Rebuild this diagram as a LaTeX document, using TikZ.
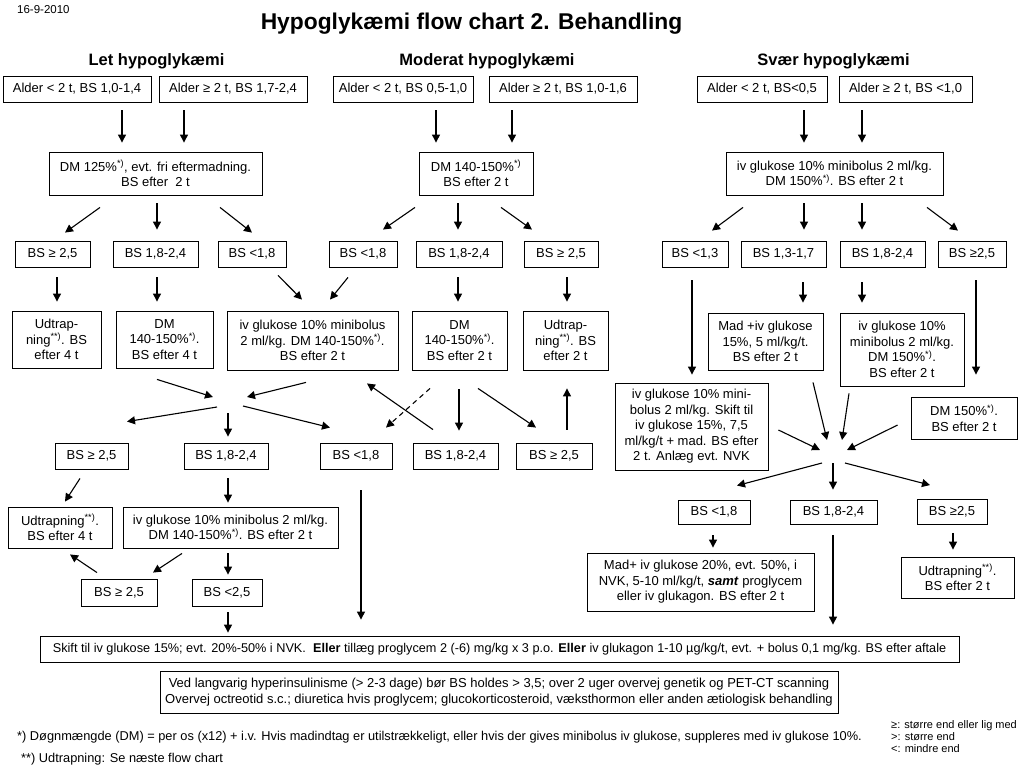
\documentclass[tikz,border=0pt]{standalone}
\usepackage{fontspec}
\setmainfont{Liberation Sans}
\usetikzlibrary{arrows.meta}
\newcommand\mybox[7][]{\node[box,#1,minimum width=#5,minimum height=#6] (#2) at (#3,#4) {#7};}
\begin{document}
\begin{tikzpicture}[x=1pt,y=-1pt,
 box/.style={draw=black,line width=0.85pt,inner xsep=2pt,inner ysep=1pt,align=center,font=\fontsize{13}{15.5}\selectfont},
 arr/.style={-{Triangle[length=8pt,width=8pt]},line width=1.1pt},
 dsh/.style={arr,dash pattern=on 5pt off 4pt},
 ttl/.style={font=\bfseries\fontsize{22.8}{27}\selectfont,anchor=base,inner sep=0pt},
 hd/.style={font=\bfseries\fontsize{16.5}{20}\selectfont,anchor=base,inner sep=0pt},
 note/.style={font=\fontsize{12.8}{15}\selectfont,anchor=base west,inner sep=0pt},
 lg/.style={font=\fontsize{11}{13}\selectfont,anchor=base west,inner sep=0pt}]
\useasboundingbox (0,0) rectangle (1024,768);
\node[font=\fontsize{11.5}{13}\selectfont,anchor=base west,inner sep=0pt] (date) at (17,14) {16-9-2010};
\node[ttl] (title) at (471.5,29.5) {Hypoglykæmi flow chart 2. Behandling};
\node[hd] (h1) at (156.5,65) {Let hypoglykæmi};
\node[hd] (h2) at (487,65) {Moderat hypoglykæmi};
\node[hd] (h3) at (833.5,65) {Svær hypoglykæmi};
% row A
\mybox{A1}{77}{89}{148}{26}{Alder < 2 t, BS 1,0-1,4}
\mybox{A2}{233}{89}{148}{26}{Alder ≥ 2 t, BS 1,7-2,4}
\mybox{A3}{403}{89}{140}{26}{Alder < 2 t, BS 0,5-1,0}
\mybox{A4}{563}{89}{148}{26}{Alder ≥ 2 t, BS 1,0-1,6}
\mybox{A5}{762}{89}{130}{26}{Alder < 2 t, BS<0,5}
\mybox{A6}{905.5}{89}{133}{26}{Alder ≥ 2 t, BS <1,0}
% row B
\mybox{B1}{155.5}{173.5}{213}{43}{DM 125\%\textsuperscript{*)}, evt. fri eftermadning.\\BS efter\ \ 2 t}
\mybox{B2}{476}{173.5}{114}{43}{DM 140-150\%\textsuperscript{*)}\\BS efter 2 t}
\mybox{B3}{834.5}{173.5}{217}{43}{iv glukose 10\% minibolus 2 ml/kg.\\DM 150\%\textsuperscript{*)}. BS efter 2 t}
% row C
\mybox{C1}{52.5}{254}{75}{26}{BS ≥ 2,5}
\mybox{C2}{155.5}{254}{85}{26}{BS 1,8-2,4}
\mybox{C3}{252}{254}{68}{26}{BS <1,8}
\mybox{C4}{363}{254}{68}{26}{BS <1,8}
\mybox{C5}{459}{254}{86}{26}{BS 1,8-2,4}
\mybox{C6}{561}{254}{74}{26}{BS ≥ 2,5}
\mybox{C7}{695}{254}{66}{26}{BS <1,3}
\mybox{C8}{783.5}{254}{85}{26}{BS 1,3-1,7}
\mybox{C9}{882.5}{254}{85}{26}{BS 1,8-2,4}
\mybox{C10}{972}{254}{68}{26}{BS ≥2,5}
% row D
\mybox{D1}{56.5}{339.5}{89}{57}{Udtrap-\\ning\textsuperscript{**)}. BS\\efter 4 t}
\mybox{D2}{164.5}{339.5}{97}{57}{DM\\140-150\%\textsuperscript{*)}.\\BS efter 4 t}
\mybox{D3}{312.5}{340.5}{171}{59}{iv glukose 10\% minibolus\\2 ml/kg. DM 140-150\%\textsuperscript{*)}.\\BS efter 2 t}
\mybox{D4}{459.5}{340.5}{95}{59}{DM\\140-150\%\textsuperscript{*)}.\\BS efter 2 t}
\mybox{D5}{565.5}{340.5}{85}{59}{Udtrap-\\ning\textsuperscript{**)}. BS\\efter 2 t}
\mybox{D6}{765.5}{341.5}{115}{57}{Mad +iv glukose\\15\%, 5 ml/kg/t.\\BS efter 2 t}
\mybox{D7}{902}{349.5}{124}{73}{iv glukose 10\%\\minibolus 2 ml/kg.\\DM 150\%\textsuperscript{*)}.\\BS efter 2 t}
\mybox{E1}{691.5}{426.5}{153}{87}{iv glukose 10\% mini-\\bolus 2 ml/kg. Skift til\\iv glukose 15\%, 7,5\\ml/kg/t + mad. BS efter\\2 t. Anlæg evt. NVK}
\mybox{E2}{964}{418}{106}{42}{DM 150\%\textsuperscript{*)}.\\BS efter 2 t}
% row H
\mybox{H1}{91.5}{456}{73}{26}{BS ≥ 2,5}
\mybox{H2}{226}{456}{84}{26}{BS 1,8-2,4}
\mybox{H3}{356}{456}{72}{26}{BS <1,8}
\mybox{H4}{455.5}{456}{85}{26}{BS 1,8-2,4}
\mybox{H5}{554}{456}{76}{26}{BS ≥ 2,5}
% row F
\mybox{F1}{714}{512}{72}{24}{BS <1,8}
\mybox{F2}{833.5}{512}{87}{24}{BS 1,8-2,4}
\mybox{F3}{952}{512}{70}{25}{BS ≥2,5}
% rows I, G, J
\mybox{I1}{60}{527.5}{104}{41}{Udtrapning\textsuperscript{**)}.\\BS efter 4 t}
\mybox{I2}{230.5}{527.5}{215}{41}{iv glukose 10\% minibolus 2 ml/kg.\\DM 140-150\%\textsuperscript{*)}. BS efter 2 t}
\mybox{G1}{700.5}{582}{227}{58}{Mad+ iv glukose 20\%, evt. 50\%, i\\NVK, 5-10 ml/kg/t, \textbf{\textit{samt}} proglycem\\eller iv glukagon. BS efter 2 t}
\mybox{G2}{957.5}{577.5}{113}{41}{Udtrapning\textsuperscript{**)}.\\BS efter 2 t}
\mybox{J1}{119}{592.5}{76}{27}{BS ≥ 2,5}
\mybox{J2}{227}{592.5}{70}{27}{BS <2,5}
% bottom
\mybox[font=\fontsize{12.7}{15}\selectfont]{K}{499.5}{649}{919}{26}{Skift til iv glukose 15\%; evt. 20\%-50\% i NVK.\ \ \textbf{Eller} tillæg proglycem 2 (-6) mg/kg x 3 p.o. \textbf{Eller} iv glukagon 1-10 µg/kg/t, evt. + bolus 0,1 mg/kg. BS efter aftale}
\mybox{L}{499}{692}{678}{42}{Ved langvarig hyperinsulinisme (> 2-3 dage) bør BS holdes > 3,5; over 2 uger overvej genetik og PET-CT scanning\\Overvej octreotid s.c.; diuretica hvis proglycem; glucokorticosteroid, væksthormon eller anden ætiologisk behandling}
\node[note] (fn1) at (17,740) {*) Døgnmængde (DM) = per os (x12) + i.v. Hvis madindtag er utilstrækkeligt, eller hvis der gives minibolus iv glukose, suppleres med iv glukose 10\%.};
\node[note] (fn2) at (21,762) {**) Udtrapning: Se næste flow chart};
\node[lg] (lg1) at (891,728) {≥: større end eller lig med};
\node[lg] (lg2) at (891,740) {>: større end};
\node[lg] (lg3) at (891,752) {<: mindre end};
% hubs
\coordinate (hub1) at (230,400);
\coordinate (hub2) at (834,452);
% vertical arrows
\draw[arr,shorten <=8,shorten >=9] (122,0 |- A1.south) -- (122,0 |- B1.north);
\draw[arr,shorten <=8,shorten >=9] (184,0 |- A2.south) -- (184,0 |- B1.north);
\draw[arr,shorten <=8,shorten >=9] (436,0 |- A3.south) -- (436,0 |- B2.north);
\draw[arr,shorten <=8,shorten >=9] (512,0 |- A4.south) -- (512,0 |- B2.north);
\draw[arr,shorten <=8,shorten >=9] (804,0 |- A5.south) -- (804,0 |- B3.north);
\draw[arr,shorten <=8,shorten >=9] (862,0 |- A6.south) -- (862,0 |- B3.north);
\draw[arr,shorten <=8,shorten >=11] (157,0 |- B1.south) -- (157,0 |- C2.north);
\draw[arr,shorten <=8,shorten >=11] (458,0 |- B2.south) -- (458,0 |- C5.north);
\draw[arr,shorten <=8,shorten >=11] (804,0 |- B3.south) -- (804,0 |- C8.north);
\draw[arr,shorten <=8,shorten >=11] (862,0 |- B3.south) -- (862,0 |- C9.north);
\draw[arr,shorten <=10,shorten >=9] (57,0 |- C1.south) -- (57,0 |- D1.north);
\draw[arr,shorten <=10,shorten >=9] (157,0 |- C2.south) -- (157,0 |- D2.north);
\draw[arr,shorten <=10,shorten >=9] (458,0 |- C5.south) -- (458,0 |- D4.north);
\draw[arr,shorten <=10,shorten >=9] (567,0 |- C6.south) -- (567,0 |- D5.north);
\draw[arr,shorten <=13,shorten >=8] (692,0 |- C7.south) -- (692,0 |- E1.north);
\draw[arr,shorten <=15,shorten >=10] (803,0 |- C8.south) -- (803,0 |- D6.north);
\draw[arr,shorten <=15,shorten >=10] (862,0 |- C9.south) -- (862,0 |- D7.north);
\draw[arr,shorten <=13,shorten >=22] (976,0 |- C10.south) -- (976,0 |- E2.north);
\draw[arr,shorten <=19,shorten >=12] (459,0 |- D4.south) -- (459,0 |- H4.north);
\draw[arr,shorten <=13,shorten >=18] (567,0 |- H5.north) -- (567,0 |- D5.south);
\draw[arr,shorten <=9,shorten >=4] (228,0 |- H2.south) -- (228,0 |- I2.north);
\draw[arr,shorten <=5,shorten >=4] (228,0 |- I2.south) -- (228,0 |- J2.north);
\draw[arr,shorten <=6,shorten >=3] (228,0 |- J2.south) -- (228,0 |- K.north);
\draw[arr,shorten <=21,shorten >=16] (361,0 |- H3.south) -- (361,0 |- K.north);
\draw[arr,shorten <=11,shorten >=5] (713,0 |- F1.south) -- (713,0 |- G1.north);
\draw[arr,shorten <=11,shorten >=11] (833,0 |- F2.south) -- (833,0 |- K.north);
\draw[arr,shorten <=8,shorten >=7] (953,0 |- F3.south) -- (953,0 |- G2.north);
% diagonal arrows
\draw[arr] ([shift={(-55.5,12)}]B1.south) -- ([shift={(12.5,-8)}]C1.north);
\draw[arr] ([shift={(64.5,12)}]B1.south) -- ([shift={(0,-8)}]C3.north);
\draw[arr] ([shift={(-61,12)}]B2.south) -- ([shift={(20,-11)}]C4.north);
\draw[arr] ([shift={(25,12)}]B2.south) -- ([shift={(-29,-11)}]C6.north);
\draw[arr] ([shift={(-91.5,12)}]B3.south) -- ([shift={(17,-10)}]C7.north);
\draw[arr] ([shift={(92.5,12)}]B3.south) -- ([shift={(-14,-10)}]C10.north);
\draw[arr] ([shift={(26,8)}]C3.south) -- ([shift={(-10.5,-11)}]D3.north);
\draw[arr] ([shift={(-15,10)}]C4.south) -- ([shift={(17.5,-11)}]D3.north);
\draw[arr] ([shift={(-7.5,11)}]D2.south) -- ([shift={(-17,-3)}]hub1);
\draw[arr] ([shift={(-6.5,12)}]D3.south) -- ([shift={(17,-3)}]hub1);
\draw[arr] ([shift={(-13,7)}]hub1) -- ([shift={(35.5,-21)}]H1.north);
\draw[arr] ([shift={(-2,13)}]hub1) -- ([shift={(2,-6)}]H2.north);
\draw[arr] ([shift={(13,6)}]hub1) -- ([shift={(-26,-15)}]H3.north);
\draw[arr] ([shift={(-22.5,-13)}]H4.north) -- ([shift={(54.5,13)}]D3.south);
\draw[dsh] ([shift={(-29.5,18)}]D4.south) -- ([shift={(30,-15)}]H3.north);
\draw[arr] ([shift={(18.5,18)}]D4.south) -- ([shift={(-18,-15)}]H5.north);
\draw[arr] ([shift={(-11.5,9)}]H1.south) -- ([shift={(5,-5)}]I1.north);
\draw[arr] ([shift={(-48.5,5)}]I2.south) -- ([shift={(34,-6)}]J1.north);
\draw[arr] ([shift={(-22,-6)}]J1.north) -- ([shift={(10,6)}]I1.south);
\draw[arr] ([shift={(47.5,12)}]D6.south) -- ([shift={(-7,-12)}]hub2);
\draw[arr] ([shift={(-53,7)}]D7.south) -- ([shift={(8,-12)}]hub2);
\draw[arr] ([shift={(10,3.5)}]E1.east) -- ([shift={(-14,-2)}]hub2);
\draw[arr] ([shift={(-13,7)}]E2.west) -- ([shift={(13,-2)}]hub2);
\draw[arr] ([shift={(-12,11)}]hub2) -- ([shift={(23,-14)}]F1.north);
\draw[arr] ([shift={(-1,11)}]hub2) -- ([shift={(-0.5,-10)}]F2.north);
\draw[arr] ([shift={(11,11)}]hub2) -- ([shift={(-22,-14)}]F3.north);
\end{tikzpicture}
\end{document}
